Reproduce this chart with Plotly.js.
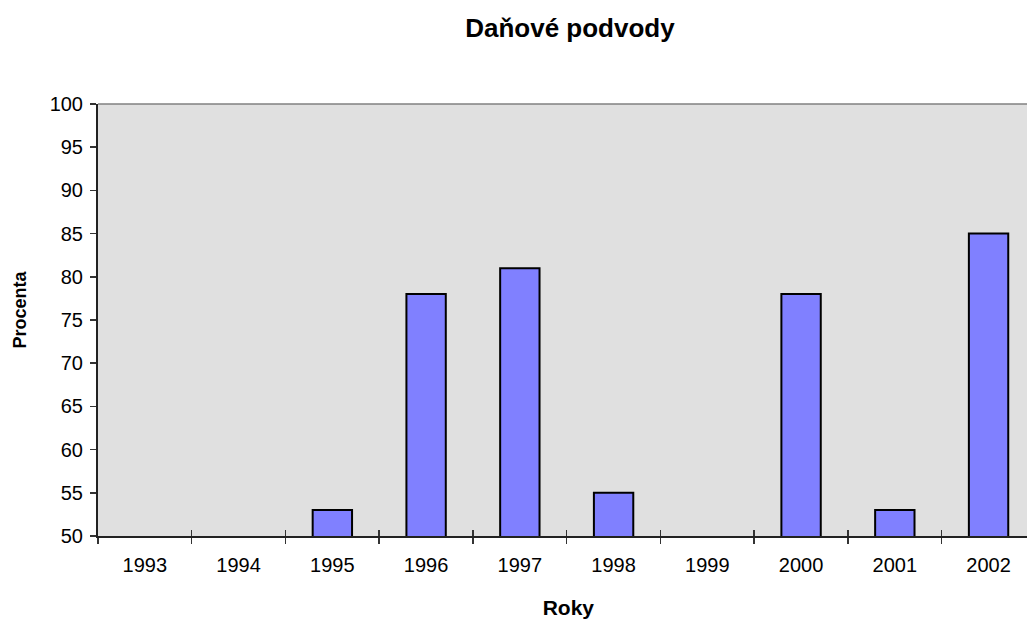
<!DOCTYPE html>
<html><head><meta charset="utf-8">
<script src="https://cdn.plot.ly/plotly-3.0.1.min.js"></script>
<style>html,body{margin:0;padding:0;overflow:hidden;background:#fff}</style>
</head><body><div id="chart" style="width:1027px;height:621px"></div>
<script>
const years = ['1993','1994','1995','1996','1997','1998','1999','2000','2001','2002'];
const percent = [null, null, 53, 78, 81, 55, null, 78, 53, 85];
const yTicks = [50,55,60,65,70,75,80,85,90,95,100];
const chartTitle = 'Daňové podvody';
const xTitle = 'Roky';
const yTitle = 'Procenta';

const font = 'Liberation Sans, Arial, sans-serif';
const traces = [
  {type:'bar', x: years, y: percent, xaxis:'x', yaxis:'y',
   marker:{color:'#8080FF', line:{color:'#000000', width:2}},
   hoverinfo:'x+y'},
  {type:'scatter', x: years, y: years.map(()=>null), xaxis:'x2', yaxis:'y',
   mode:'markers', showlegend:false, hoverinfo:'skip'}
];
const layout = {
  width:1027, height:621,
  margin:{l:98, r:0, t:104, b:85},
  paper_bgcolor:'#ffffff', plot_bgcolor:'#E0E0E0',
  showlegend:false, bargap:0.58,
  font:{family:font, size:20, color:'#000'},
  title:{text:'<b>'+chartTitle+'</b>', font:{family:font, size:26, color:'#000'},
         x:0.508, xref:'paper', y:1-28/621, yref:'container', yanchor:'middle'},
  xaxis:{type:'category', categoryarray:years, categoryorder:'array',
         range:[-0.5, 9.41], tickson:'boundaries', ticks:'outside', ticklen:6, tickwidth:1.5,
         tickcolor:'#333', showgrid:false, zeroline:false,
         showline:true, linecolor:'#222', linewidth:2,
         ticklabelstandoff:10, tickfont:{size:20},
         title:{text:'&nbsp;&nbsp;<b>'+xTitle+'</b>', font:{size:21}, standoff:25}},
  xaxis2:{type:'category', categoryarray:years, categoryorder:'array', overlaying:'x', anchor:'y',
          range:[-0.5, 9.41], tickson:'boundaries', ticks:'inside', ticklen:6, tickwidth:1.5,
          tickcolor:'#333', showticklabels:false, showgrid:false, zeroline:false, showline:false},
  yaxis:{range:[50,100], tickvals:yTicks, ticks:'outside', ticklen:6, tickwidth:1.5, tickcolor:'#333',
         showgrid:false, zeroline:false, showline:true, linecolor:'#222', linewidth:2,
         ticklabelstandoff:3, tickfont:{size:20},
         title:{text:'&nbsp;&nbsp;&nbsp;&nbsp;<b>'+yTitle+'</b>', font:{size:18}, standoff:18}},
  shapes:[{type:'line', xref:'paper', yref:'paper', x0:0, x1:1, y0:1, y1:1,
           line:{color:'#808080', width:1.5}}]
};
Plotly.newPlot('chart', traces, layout, {displayModeBar:false, staticPlot:true});
</script></body></html>
